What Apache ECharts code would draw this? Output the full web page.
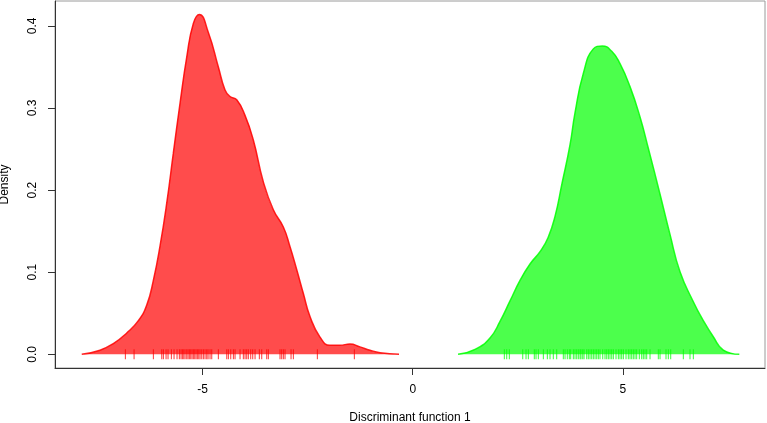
<!DOCTYPE html>
<html>
<head>
<meta charset="utf-8">
<script src="https://cdn.jsdelivr.net/npm/echarts@6/dist/echarts.min.js"></script>
<style>
html,body{margin:0;padding:0;background:#fff;}
#chart{width:767px;height:423px;}
</style>
</head>
<body>
<div id="chart"></div>
<script>
// Density curve of group 1 (red)
const redX = [-7.874,-7.439,-7.122,-6.803,-6.527,-6.327,-6.170,-6.011,-5.852,-5.695,-5.535,-5.376,-5.219,-5.076,-4.862,-4.624,-4.465,-4.346,-4.187,-3.990,-3.792,-3.554,-3.316,-3.078,-2.919,-2.759,-2.602,-2.444,-2.206,-1.969,-1.731,-1.493,-1.255,-1.017,-0.778,-0.326];
const redY = [0,0.005,0.013,0.026,0.041,0.060,0.090,0.132,0.184,0.245,0.306,0.362,0.403,0.414,0.392,0.350,0.322,0.314,0.310,0.291,0.261,0.210,0.176,0.155,0.131,0.103,0.074,0.046,0.021,0.011,0.011,0.0125,0.009,0.005,0.002,0];
// Density curve of group 2 (green)
const greenX = [1.077,1.482,1.838,2.076,2.314,2.552,2.790,3.028,3.218,3.385,3.551,3.741,3.860,4.058,4.296,4.510,4.734,4.931,5.169,5.407,5.604,5.883,6.120,6.358,6.675,6.912,7.150,7.388,7.769];
const greenY = [0,0.006,0.020,0.040,0.065,0.090,0.110,0.125,0.142,0.168,0.208,0.255,0.294,0.342,0.372,0.3755,0.369,0.354,0.326,0.289,0.251,0.195,0.146,0.1006,0.064,0.041,0.0214,0.0052,0];
// Rug (observations)
const redRug = [-6.836,-6.629,-6.170,-5.970,-5.932,-5.868,-5.821,-5.742,-5.678,-5.607,-5.552,-5.512,-5.480,-5.447,-5.416,-5.376,-5.345,-5.314,-5.281,-5.250,-5.219,-5.186,-5.155,-5.124,-5.090,-5.059,-5.019,-4.981,-4.941,-4.900,-4.869,-4.822,-4.781,-4.624,-4.424,-4.386,-4.329,-4.267,-4.227,-4.108,-4.030,-3.989,-3.949,-3.911,-3.854,-3.806,-3.751,-3.649,-3.592,-3.473,-3.435,-3.157,-3.117,-3.078,-3.038,-2.895,-2.840,-2.269,-1.389];
const greenRug = [2.179,2.236,2.298,2.617,2.695,2.750,2.892,2.933,2.988,3.107,3.202,3.266,3.344,3.425,3.582,3.623,3.677,3.725,3.758,3.820,3.860,3.901,3.939,3.980,4.003,4.044,4.075,4.139,4.177,4.217,4.258,4.296,4.337,4.377,4.415,4.455,4.520,4.574,4.615,4.653,4.693,4.734,4.772,4.836,4.891,4.931,4.971,5.010,5.074,5.128,5.169,5.209,5.247,5.288,5.328,5.390,5.447,5.485,5.526,5.566,5.645,5.842,5.883,6.025,6.080,6.137,6.437,6.596,6.675];
// Tick values
const xTicks = [-5, 0, 5];
const yTicks = [0, 0.1, 0.2, 0.3, 0.4];

const zip = (xs, ys) => xs.map((x, i) => [x, ys[i]]);
const rug = xs => xs.map(x => [x, 0]);
const font = 'Liberation Sans, Arial, sans-serif';

const chart = echarts.init(document.getElementById('chart'), null, {renderer: 'canvas'});
chart.setOption({
  animation: false,
  backgroundColor: '#ffffff',
  grid: {left: 55, right: 2, top: 1, bottom: 55, containLabel: false, outerBoundsMode: 'none',
    show: true, borderColor: '#9a9a9a', borderWidth: 1, backgroundColor: 'transparent'},
  xAxis: {
    type: 'value', min: -8.51, max: 8.38,
    name: 'Discriminant function 1', nameLocation: 'middle', nameGap: 44,
    nameTextStyle: {fontFamily: font, fontSize: 12, color: '#000'},
    axisLine: {show: true, onZero: false, lineStyle: {color: '#333', width: 1}},
    axisTick: {show: true, length: 7, customValues: xTicks, lineStyle: {color: '#333'}},
    axisLabel: {customValues: xTicks, margin: 16, fontFamily: font, fontSize: 12, color: '#000'},
    splitLine: {show: false}
  },
  yAxis: {
    type: 'value', min: -0.01669, max: 0.4303,
    name: 'Density', nameLocation: 'middle', nameGap: 44, nameRotate: 90,
    nameTextStyle: {fontFamily: font, fontSize: 12, color: '#000'},
    axisLine: {show: true, onZero: false, lineStyle: {color: '#333', width: 1}},
    axisTick: {show: true, length: 7, customValues: yTicks, lineStyle: {color: '#333'}},
    axisLabel: {customValues: yTicks, rotate: 90, margin: 16, fontFamily: font, fontSize: 12, color: '#000',
      formatter: v => v.toFixed(1)},
    splitLine: {show: false}
  },
  series: [
    {type: 'line', data: zip(redX, redY), smooth: 0.5, showSymbol: false,
      lineStyle: {color: 'rgba(255,0,0,0.85)', width: 1.5},
      areaStyle: {color: 'rgba(255,0,0,0.7)', opacity: 1}, z: 2},
    {type: 'line', data: zip(greenX, greenY), smooth: 0.5, showSymbol: false,
      lineStyle: {color: 'rgba(0,255,0,0.85)', width: 1.5},
      areaStyle: {color: 'rgba(0,255,0,0.7)', opacity: 1}, z: 2},
    {type: 'scatter', data: rug(redRug), symbol: 'rect', symbolSize: [1, 10],
      itemStyle: {color: '#ff0000'}, z: 3},
    {type: 'scatter', data: rug(greenRug), symbol: 'rect', symbolSize: [1, 10],
      itemStyle: {color: '#00ff00'}, z: 3}
  ]
});
</script>
</body>
</html>
